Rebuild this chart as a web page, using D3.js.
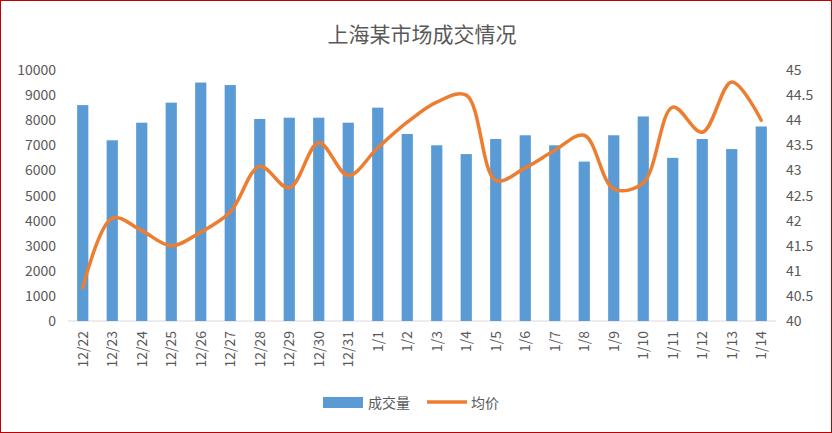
<!DOCTYPE html>
<html><head><meta charset="utf-8">
<script src="https://cdn.jsdelivr.net/npm/d3@7"></script>
<style>body{margin:0;background:#fff;font-family:"Noto Sans CJK SC","Noto Sans",sans-serif;}</style>
</head><body>
<div class="canvas"></div>
<script>
const dates = ["12/22","12/23","12/24","12/25","12/26","12/27","12/28","12/29","12/30","12/31","1/1","1/2","1/3","1/4","1/5","1/6","1/7","1/8","1/9","1/10","1/11","1/12","1/13","1/14"];
const volume = [8600,7200,7900,8700,9500,9400,8050,8100,8100,7900,8500,7450,7000,6650,7250,7400,7000,6350,7400,8150,6500,7250,6850,7750];
const price = [40.66,42.05,41.8,41.5,41.77,42.17,43.08,42.65,43.55,42.9,43.45,43.96,44.36,44.5,42.8,43.05,43.4,43.7,42.63,42.75,44.26,43.76,44.76,44.0];
const leftTicks = d3.range(0, 10001, 1000);
const rightTicks = [40,40.5,41,41.5,42,42.5,43,43.5,44,44.5,45];

const W = 832, H = 433;
const svg = d3.select(".canvas").append("svg").attr("width", W).attr("height", H);
svg.append("rect").attr("x",0.5).attr("y",0.5).attr("width",W-1).attr("height",H-1)
  .attr("fill","#fff").attr("stroke","#c00000").attr("stroke-width",1);

const plotL = 68, plotR = 776, plotT = 70, plotB = 321;
const x = d3.scaleBand().domain(dates).range([plotL, plotR]).paddingInner(0.62).paddingOuter(0.31);
const yL = d3.scaleLinear().domain([0, 10000]).range([plotB, plotT]);
const yR = d3.scaleLinear().domain([40, 45]).range([plotB, plotT]);

svg.append("text").attr("x", (plotL+plotR)/2).attr("y", 42).attr("text-anchor","middle")
  .attr("font-size", 21).attr("fill","#595959").text("上海某市场成交情况");

svg.append("g").selectAll("text").data(leftTicks).join("text")
  .attr("x", 56).attr("y", d => yL(d) + 5).attr("text-anchor","end")
  .attr("font-size", 14).attr("fill","#595959").text(d => d);
svg.append("g").selectAll("text").data(rightTicks).join("text")
  .attr("x", 786).attr("y", d => yR(d) + 5)
  .attr("font-size", 14).attr("fill","#595959").text(d => d);

svg.append("line").attr("x1", plotL).attr("x2", plotR).attr("y1", plotB).attr("y2", plotB)
  .attr("stroke","#d9d9d9");

svg.append("g").selectAll("rect").data(volume).join("rect")
  .attr("x", (d,i) => x(dates[i])).attr("width", x.bandwidth())
  .attr("y", d => yL(d)).attr("height", d => plotB - yL(d)).attr("fill","#5b9bd5");

const line = d3.line().x((d,i) => x(dates[i]) + x.bandwidth()/2).y(d => yR(d)).curve(d3.curveCatmullRom.alpha(0.5));
svg.append("path").datum(price).attr("d", line).attr("fill","none")
  .attr("stroke","#ed7d31").attr("stroke-width",3.5).attr("stroke-linecap","round");

svg.append("g").selectAll("text").data(dates).join("text")
  .attr("transform", d => `translate(${x(d) + x.bandwidth()/2 + 5},${plotB + 10}) rotate(-90)`)
  .attr("text-anchor","end").attr("font-size", 14).attr("fill","#595959").text(d => d);

// Legend
svg.append("rect").attr("x", 323).attr("y", 397).attr("width", 40).attr("height", 11).attr("fill","#5b9bd5");
svg.append("text").attr("x", 368).attr("y", 408).attr("font-size", 14).attr("fill","#595959").text("成交量");
svg.append("line").attr("x1", 427).attr("x2", 467).attr("y1", 402).attr("y2", 402)
  .attr("stroke","#ed7d31").attr("stroke-width",3.5);
svg.append("text").attr("x", 471).attr("y", 408).attr("font-size", 14).attr("fill","#595959").text("均价");
</script>
</body></html>
